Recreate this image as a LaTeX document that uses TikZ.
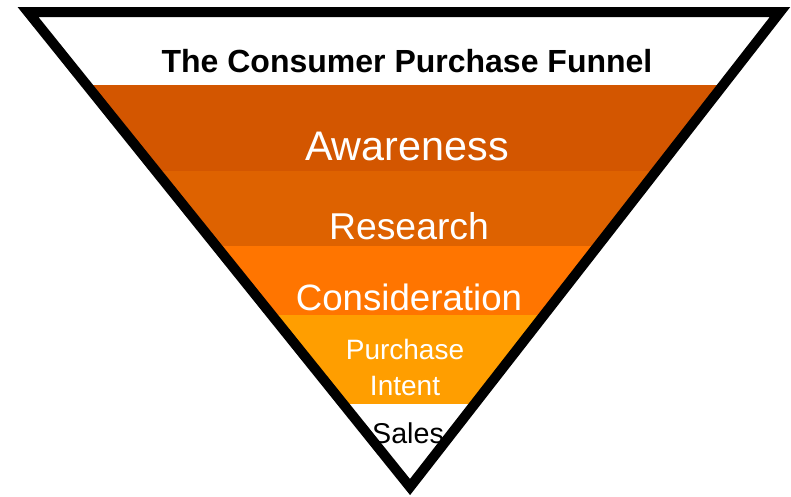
\documentclass[tikz,border=0pt]{standalone}
\usepackage{fontspec}
\setmainfont{Liberation Sans}
\usepackage{tikz}

\definecolor{stageA}{RGB}{211,86,0}
\definecolor{stageB}{RGB}{222,98,0}
\definecolor{stageC}{RGB}{255,117,0}
\definecolor{stageD}{RGB}{255,158,0}

\begin{document}
\begin{tikzpicture}[x=0.75pt, y=-0.75pt,
  rim/.style={draw=black, line width=7.5pt, line join=miter},
  stage/.style={anchor=base, inner sep=0pt, text=white},
  heading/.style={anchor=base, inner sep=0pt, font=\bfseries\fontsize{24}{28}\selectfont}
]
\useasboundingbox (0,0) rectangle (791,496);
% Funnel corners
\coordinate (tl) at (28,12);
\coordinate (tr) at (780,12);
\coordinate (tip) at (410,487);
% Bands, clipped to the funnel
\begin{scope}
  \clip (tl) -- (tr) -- (tip) -- cycle;
  \fill[stageA] (0,85) rectangle (791,171);
  \fill[stageB] (0,171) rectangle (791,246);
  \fill[stageC] (0,246) rectangle (791,315);
  \fill[stageD] (0,315) rectangle (791,404);
\end{scope}
% Outline
\draw[rim] (tl) -- (tr) -- (tip) -- cycle;
% Labels
\node[heading] (title) at (407,72) {The Consumer Purchase Funnel};
\node[stage, font=\fontsize{31}{36}\selectfont] (aware) at (407,160) {Awareness};
\node[stage, font=\fontsize{28}{32}\selectfont] (research) at (409,239) {Research};
\node[stage, font=\fontsize{27.5}{32}\selectfont] (consider) at (409,310) {Consideration};
\node[inner sep=0pt, text=white, align=center, font=\fontsize{21}{27}\selectfont] (intent) at (405,367) {Purchase\\Intent};
\node[stage, text=black, font=\fontsize{21.5}{26}\selectfont] (sales) at (408,443) {Sales};
\end{tikzpicture}
\end{document}
